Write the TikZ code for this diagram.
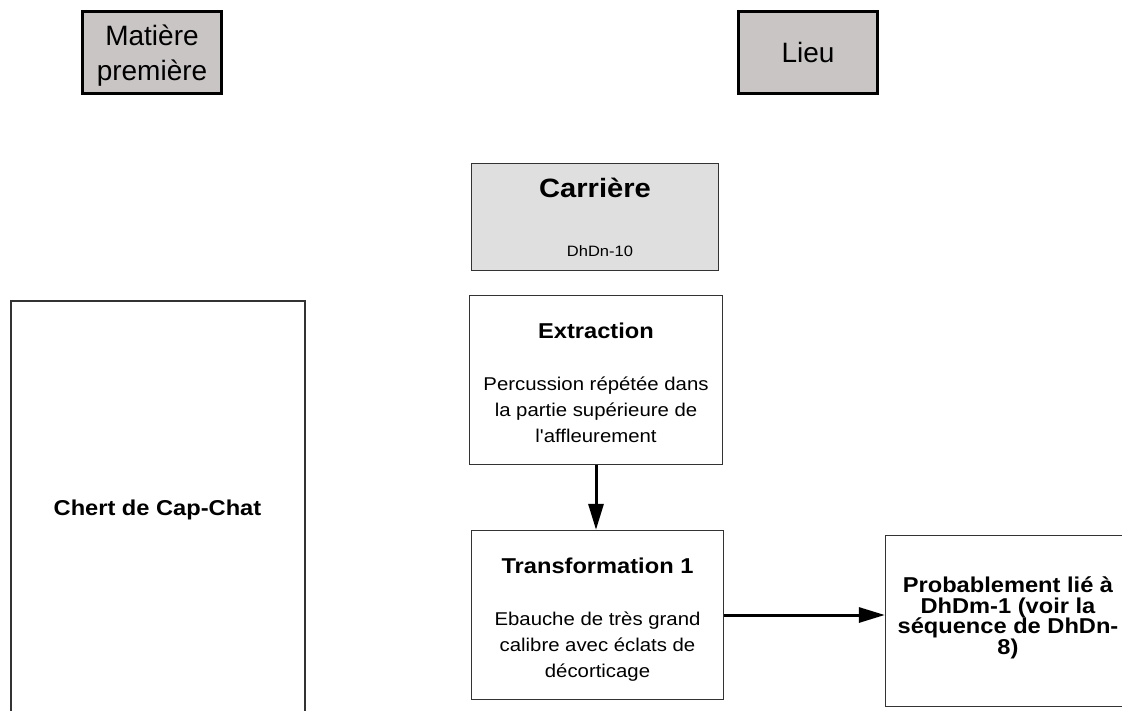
\documentclass[tikz,border=0pt]{standalone}
\usepackage{fontspec}
\setmainfont{Liberation Sans}
\newfontfamily\widesans[FakeStretch=1.1]{Liberation Sans}
\usetikzlibrary{arrows.meta}
\definecolor{headfill}{HTML}{C9C5C5}
\definecolor{quarryfill}{HTML}{DFDFDF}
\definecolor{edgegray}{HTML}{333333}
\begin{document}
\begin{tikzpicture}[x=1pt,y=-1pt,
  headbox/.style={draw=black, line width=3pt, fill=headfill, inner sep=0pt},
  quarrybox/.style={draw=edgegray, line width=1.5pt, fill=quarryfill, inner sep=0pt},
  procbox/.style={draw=edgegray, line width=1.3pt, fill=white, inner sep=0pt},
  chertbox/.style={draw=edgegray, line width=2pt, fill=white, inner sep=0pt},
  hdtext/.style={font=\fontsize{28pt}{34pt}\selectfont, anchor=base, inner sep=0pt},
  bigtitle/.style={font=\widesans\fontsize{26.5pt}{32pt}\selectfont\bfseries, anchor=base, inner sep=0pt},
  ptitle/.style={font=\widesans\fontsize{21.5pt}{24pt}\selectfont\bfseries, anchor=base, inner sep=0pt},
  pbody/.style={font=\widesans\fontsize{18.5pt}{24pt}\selectfont, anchor=base, inner sep=0pt},
  sbody/.style={font=\widesans\fontsize{15pt}{18pt}\selectfont, anchor=base, inner sep=0pt},
  conn/.style={line width=3pt, draw=black, -{Triangle[length=26pt,width=15pt]}}
]
\useasboundingbox (0,0) rectangle (1122,710);
\clip (0,0) rectangle (1122,710);
\fill[white] (0,0) rectangle (1122,710);

% header boxes
\node[headbox, minimum width=139pt, minimum height=82pt] (mat) at (152,52.5) {};
\node[hdtext] (matA) at (152,45) {Matière};
\node[hdtext] (matB) at (152,80) {première};

\node[headbox, minimum width=139pt, minimum height=82pt] (lieu) at (808,52.5) {};
\node[hdtext] (lieuT) at (808,62) {Lieu};

% quarry
\node[quarrybox, minimum width=247pt, minimum height=107pt] (carr) at (595,217) {};
\node[bigtitle] (carrT) at (595,197) {Carrière};
\node[sbody] (carrS) at (600,256) {DhDn-10};

% raw material
\node[chertbox, minimum width=294pt, minimum height=414pt] (chert) at (157.5,508) {};
\node[ptitle] (chertT) at (157.5,515) {Chert de Cap-Chat};

% extraction
\node[procbox, minimum width=253pt, minimum height=169pt] (ext) at (596,380) {};
\node[ptitle] (extT) at (596,338) {Extraction};
\node[pbody] (extA) at (596,390) {Percussion répétée dans};
\node[pbody] (extB) at (596,416) {la partie supérieure de};
\node[pbody] (extC) at (596,442) {l'affleurement};

% transformation
\node[procbox, minimum width=252pt, minimum height=169pt] (trans) at (597.5,615) {};
\node[ptitle] (trT) at (597.5,573) {Transformation 1};
\node[pbody] (trA) at (597.5,625) {Ebauche de très grand};
\node[pbody] (trB) at (597.5,651) {calibre avec éclats de};
\node[pbody] (trC) at (597.5,677) {décorticage};

% result
\node[procbox, minimum width=245pt, minimum height=171pt] (prob) at (1008,621) {};
\node[ptitle] (prA) at (1008,592) {Probablement lié à};
\node[ptitle] (prB) at (1008,613) {DhDm-1 (voir la};
\node[ptitle] (prC) at (1008,633.5) {séquence de DhDn-};
\node[ptitle] (prD) at (1008,654) {8)};

% connectors
\draw[conn] (ext.south) -- (ext.south |- trans.north);
\draw[conn] (trans.east) -- (trans.east -| prob.west);
\end{tikzpicture}
\end{document}
